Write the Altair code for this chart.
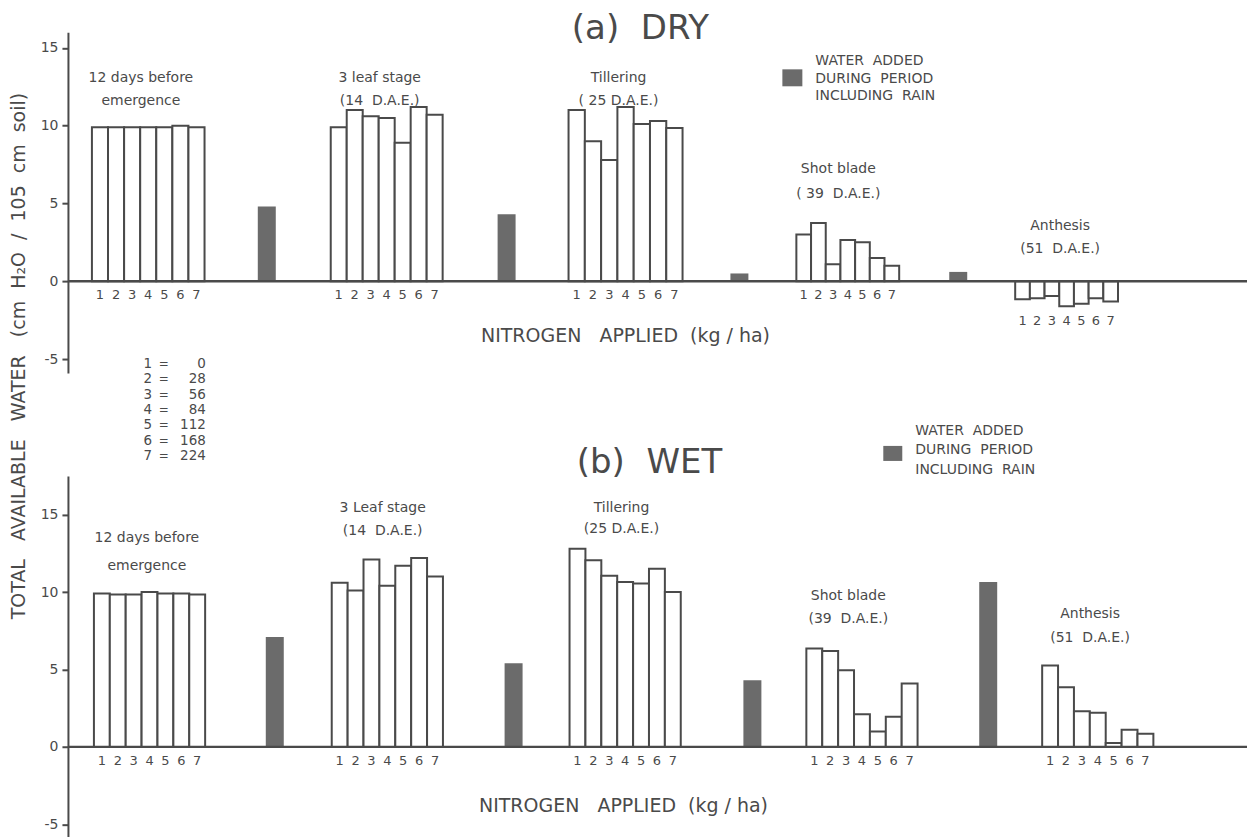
import altair as alt
import pandas as pd

NB = "\u00a0"  # non-breaking space, keeps the wide word gaps of the original lettering

# ---------------- data ----------------
nitrogen_codes = ["1", "2", "3", "4", "5", "6", "7"]
nitrogen_rates = ["0", "28", "56", "84", "112", "168", "224"]

dry_stage_line1 = ["12 days before", "3 leaf stage", "Tillering", "Shot blade", "Anthesis"]
dry_stage_line2 = ["emergence", "(14" + NB + " D.A.E.)", "( 25 D.A.E.)", "( 39" + NB + " D.A.E.)", "(51" + NB + " D.A.E.)"]
wet_stage_line1 = ["12 days before", "3 Leaf stage", "Tillering", "Shot blade", "Anthesis"]
wet_stage_line2 = ["emergence", "(14" + NB + " D.A.E.)", "(25 D.A.E.)", "(39" + NB + " D.A.E.)", "(51" + NB + " D.A.E.)"]

# total available water per stage (rows) and nitrogen level 1..7 (columns)
dry_water = [
    [9.9, 9.9, 9.9, 9.9, 9.9, 10.0, 9.9],
    [9.9, 11.0, 10.6, 10.5, 8.9, 11.2, 10.7],
    [11.0, 9.0, 7.8, 11.2, 10.1, 10.3, 9.85],
    [3.0, 3.75, 1.1, 2.65, 2.5, 1.5, 1.0],
    [-1.15, -1.1, -0.95, -1.6, -1.45, -1.1, -1.3],
]
dry_added = [4.8, 4.3, 0.5, 0.6]

wet_water = [
    [9.9, 9.85, 9.85, 10.0, 9.9, 9.9, 9.85],
    [10.6, 10.1, 12.1, 10.4, 11.7, 12.2, 11.0],
    [12.8, 12.05, 11.05, 10.65, 10.55, 11.5, 10.0],
    [6.35, 6.2, 4.95, 2.1, 1.0, 1.95, 4.1],
    [5.25, 3.85, 2.3, 2.2, 0.25, 1.1, 0.85],
]
wet_added = [7.1, 5.4, 4.3, 10.65]

legend_lines = ["WATER" + NB + " ADDED", "DURING" + NB + " PERIOD", "INCLUDING" + NB + " RAIN"]
x_title = "NITROGEN" + NB * 2 + " APPLIED" + NB + " (kg / ha)"
y_title = ("TOTAL" + NB * 2 + " AVAILABLE" + NB * 2 + " WATER" + NB * 2 +
           " (cm" + NB + " H\u2082O" + NB + " /" + NB + " 105" + NB + " cm" + NB + " soil)")
panel_titles = ["(a)" + NB + " DRY", "(b)" + NB + " WET"]

# ---------------- layout / style ----------------
INK = "#4a4a4a"
FILL = "#6b6b6b"
FONT = "DejaVu Sans"
PLOT_W = 1180

DRY_LAYOUT = dict(
    ydomain=[-5.9, 16.0], height=341,
    group_x=[24, 263, 501, 729, 948], bar_w=[16.1, 16.0, 16.3, 14.7, 14.7],
    added_x=[190, 430, 663, 882], added_w=18,
    label_x=[73, 312, 551, 771, 993],
    label_y1=[13.04, 13.04, 13.04, 7.2, 3.54], label_y2=[11.57, 11.57, 11.57, 5.6, 2.06],
    digit_y=[-0.89, -0.89, -0.89, -0.89, -2.56],
    legend_sq=(715, 735, 13.62, 12.53), legend_x=748, legend_y=[14.13, 12.98, 11.88],
    title_xy=(573, 16.2), xtitle_xy=(558, -3.53),
)
WET_LAYOUT = dict(
    ydomain=[-5.8, 17.5], height=361,
    group_x=[26, 264, 502, 739, 975], bar_w=[15.9, 15.9, 15.9, 15.9, 15.9],
    added_x=[198, 437, 676, 912], added_w=18,
    label_x=[79, 315, 554, 781, 1023],
    label_y1=[13.5, 15.43, 15.43, 9.75, 8.59], label_y2=[11.69, 13.95, 14.08, 8.27, 7.04],
    digit_y=[-0.9, -0.9, -0.9, -0.9, -0.9],
    legend_sq=(816, 835, 19.44, 18.47), legend_x=848, legend_y=[20.4, 19.18, 17.9],
    title_xy=(582, 18.34), xtitle_xy=(556, -3.8),
)


def panel(values, added, line1, line2, title, L, extra=None):
    xs = alt.Scale(domain=[0, PLOT_W], nice=False, zero=False)
    ys = alt.Scale(domain=L["ydomain"], nice=False, zero=False)
    yaxis = alt.Axis(values=[-5, 0, 5, 10, 15], title=None, grid=False,
                     domainColor=INK, domainWidth=2, tickColor=INK, tickWidth=2,
                     tickSize=6, labelFont=FONT, labelFontSize=14, labelColor=INK,
                     labelPadding=4,
                     labelExpr="datum.value < 0 ? '-' + abs(datum.value) : datum.label")

    def X(f):
        return alt.X(f, scale=xs, axis=None)

    def Y(f):
        return alt.Y(f, scale=ys, axis=yaxis)

    bars, digits = [], []
    for g, vals in enumerate(values):
        w = L["bar_w"][g]
        for i, v in enumerate(vals):
            x0 = L["group_x"][g] + i * w
            bars.append(dict(x=x0, x2=x0 + w, v=v))
            digits.append(dict(x=x0 + w / 2, y=L["digit_y"][g], t=nitrogen_codes[i]))
    bars = pd.DataFrame(bars)
    digits = pd.DataFrame(digits)
    filled = pd.DataFrame([
        dict(x=L["added_x"][k], x2=L["added_x"][k] + L["added_w"], v=v)
        for k, v in enumerate(added)
    ])
    labels = pd.DataFrame(
        [dict(x=L["label_x"][g], y=L["label_y1"][g], t=line1[g]) for g in range(5)]
        + [dict(x=L["label_x"][g], y=L["label_y2"][g], t=line2[g]) for g in range(5)]
    )
    sx0, sx1, sy0, sy1 = L["legend_sq"]
    legend_sq = pd.DataFrame([dict(x=sx0, x2=sx1, y=sy0, y2=sy1)])
    legend_txt = pd.DataFrame([dict(x=L["legend_x"], y=L["legend_y"][k], t=s)
                               for k, s in enumerate(legend_lines)])
    titles = pd.DataFrame([dict(x=L["title_xy"][0], y=L["title_xy"][1], t=title)])
    xtitle = pd.DataFrame([dict(x=L["xtitle_xy"][0], y=L["xtitle_xy"][1], t=x_title)])

    open_bars = alt.Chart(bars).mark_bar(fill="white", stroke=INK, strokeWidth=2).encode(
        x=X("x:Q"), x2="x2:Q", y=Y("v:Q"), y2=alt.datum(0),
    )
    fill_bars = alt.Chart(filled).mark_bar(color=FILL).encode(
        x=X("x:Q"), x2="x2:Q", y=Y("v:Q"), y2=alt.datum(0),
    )
    zero = alt.Chart(pd.DataFrame({"v": [0]})).mark_rule(color=INK, strokeWidth=2.5).encode(
        y=Y("v:Q"))

    def txt(df, size, align="center", weight="normal"):
        return alt.Chart(df).mark_text(font=FONT, fontSize=size, color=INK, align=align,
                                       baseline="middle", fontWeight=weight).encode(
            x=X("x:Q"), y=Y("y:Q"), text="t:N")

    sq = alt.Chart(legend_sq).mark_rect(color=FILL).encode(
        x=X("x:Q"), x2="x2:Q", y=Y("y:Q"), y2="y2:Q")

    layers = [open_bars, fill_bars, zero,
              txt(labels, 14), txt(digits, 13),
              sq, txt(legend_txt, 14, align="left"),
              txt(titles, 34), txt(xtitle, 19)]
    if extra:
        layers += extra(txt)
    return alt.layer(*layers).properties(width=PLOT_W, height=L["height"])


def key_layers(txt):
    n = len(nitrogen_codes)
    ky = [-5.32 - 0.985 * i for i in range(n)]
    codes = pd.DataFrame(dict(x=[80] * n, y=ky, t=nitrogen_codes))
    eqs = pd.DataFrame(dict(x=[96] * n, y=ky, t=["="] * n))
    rates = pd.DataFrame(dict(x=[138] * n, y=ky, t=nitrogen_rates))
    ytitle = alt.Chart(pd.DataFrame({"t": [y_title]})).mark_text(
        font=FONT, fontSize=19, color=INK, angle=270, align="center", baseline="middle"
    ).encode(x=alt.value(-49), y=alt.value(324), text="t:N")
    return [txt(codes, 13.5), txt(eqs, 12), txt(rates, 13.5, align="right"), ytitle]


top = panel(dry_water, dry_added, dry_stage_line1, dry_stage_line2, panel_titles[0],
            DRY_LAYOUT, extra=key_layers)
bottom = panel(wet_water, wet_added, wet_stage_line1, wet_stage_line2, panel_titles[1],
               WET_LAYOUT)

chart = alt.vconcat(top, bottom, spacing=103, bounds="flush").properties(
    padding={"left": 9, "top": 11, "right": 2, "bottom": 0},
    background="white",
).configure_view(stroke=None)

chart.save("out.html", embed_options={"renderer": "svg", "actions": False})
